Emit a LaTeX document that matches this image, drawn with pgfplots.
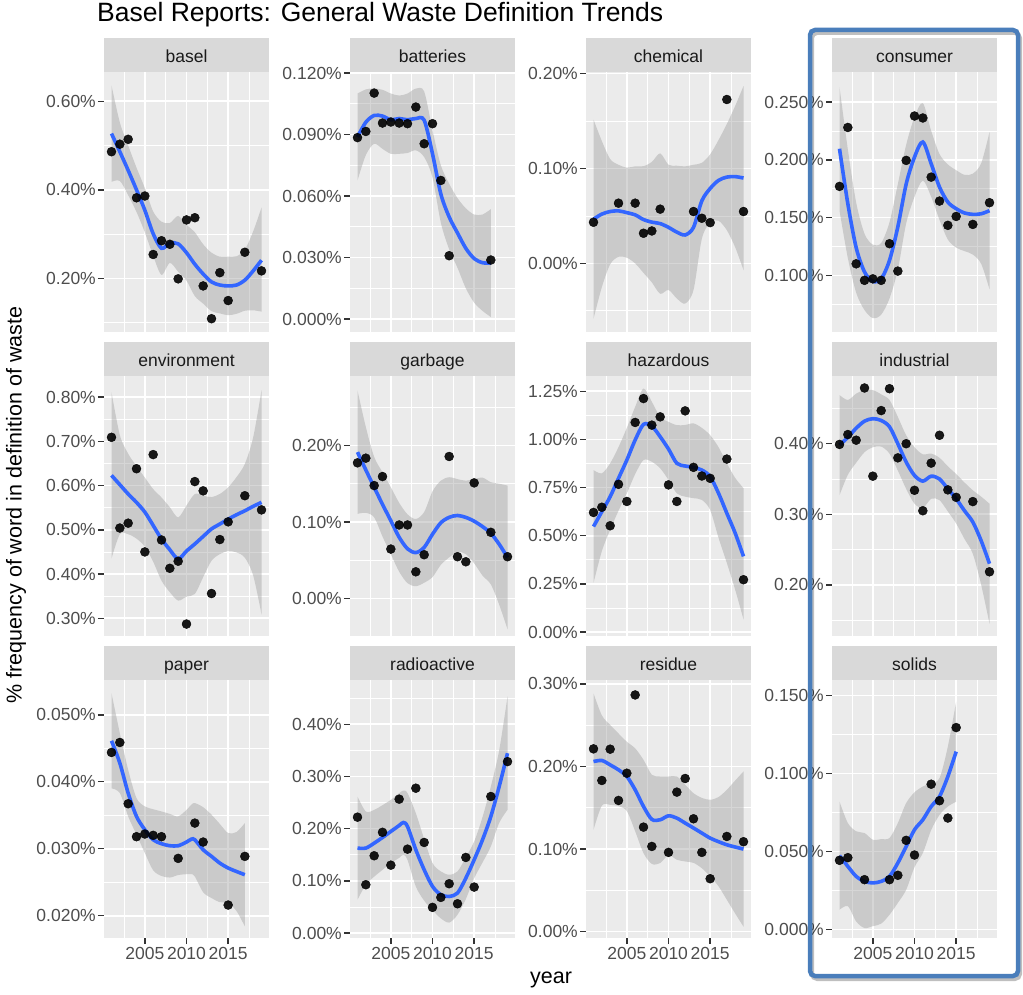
\documentclass[border=0pt]{standalone}
\usepackage{fontspec}
\setmainfont{Liberation Sans}
\usepackage{pgfplots}
\pgfplotsset{compat=1.18}
\usepackage{pgfplotstable}
\usepgfplotslibrary{fillbetween}
\definecolor{panelbg}{RGB}{235,235,235}
\definecolor{stripbg}{RGB}{217,217,217}
\definecolor{ticktext}{RGB}{77,77,77}
\definecolor{tickcol}{RGB}{51,51,51}
\definecolor{striptext}{RGB}{26,26,26}
\definecolor{fitblue}{RGB}{51,102,255}
\definecolor{bandgray}{RGB}{153,153,153}
\definecolor{framecol}{RGB}{74,126,187}
\newcommand{\tickfont}{\fontsize{17.5}{20}\selectfont}
\newcommand{\axisfont}{\fontsize{21.5}{24}\selectfont}
\newcommand{\titlefont}{\fontsize{26.5}{30}\selectfont}

% ---------------- data: points (x y) and smooth fit with band (x fit lo hi)
\pgfplotstableread{
x y
2001 0.486
2002 0.503
2003 0.514
2004 0.382
2005 0.386
2006 0.254
2007 0.285
2008 0.277
2009 0.199
2010 0.332
2011 0.337
2012 0.183
2013 0.109
2014 0.213
2015 0.150
2017 0.259
2019 0.217
}\ptsBasel
\pgfplotstableread{
x fit lo hi
2001 0.527 0.418 0.636
2002 0.486 0.420 0.552
2003 0.444 0.388 0.500
2004 0.400 0.350 0.450
2005 0.354 0.304 0.404
2006 0.301 0.251 0.351
2007 0.268 0.208 0.328
2008 0.280 0.235 0.325
2009 0.278 0.215 0.341
2010 0.258 0.195 0.321
2011 0.232 0.160 0.304
2012 0.210 0.143 0.277
2013 0.192 0.126 0.258
2014 0.185 0.121 0.249
2015 0.183 0.117 0.249
2016 0.185 0.120 0.250
2017 0.196 0.127 0.265
2018 0.217 0.128 0.306
2019 0.241 0.125 0.360
}\bandBasel

\pgfplotstableread{
x y
2001 0.0885
2002 0.0915
2003 0.1102
2004 0.0956
2005 0.0961
2006 0.0956
2007 0.0953
2008 0.1034
2009 0.0855
2010 0.0953
2011 0.0676
2012 0.0309
2017 0.0288
}\ptsBatt
\pgfplotstableread{
x fit lo hi
2001 0.0888 0.0676 0.1100
2002 0.0960 0.0800 0.1120
2003 0.0993 0.0855 0.1125
2004 0.0990 0.0830 0.1118
2005 0.0972 0.0806 0.1100
2006 0.0978 0.0806 0.1090
2007 0.0972 0.0810 0.1100
2008 0.0978 0.0823 0.1124
2009 0.0970 0.0790 0.1110
2010 0.0806 0.0690 0.0920
2011 0.0610 0.0470 0.0750
2012 0.0498 0.0340 0.0660
2013 0.0420 0.0250 0.0590
2014 0.0345 0.0150 0.0540
2015 0.0295 0.0080 0.0510
2016 0.0275 0.0040 0.0510
2017 0.0273 0.0010 0.0536
}\bandBatt

\pgfplotstableread{
x y
2001 0.0434
2004 0.0635
2006 0.0635
2007 0.0318
2008 0.0342
2009 0.0572
2013 0.0547
2014 0.0476
2015 0.0430
2017 0.1728
2019 0.0547
}\ptsChem
\pgfplotstableread{
x fit lo hi
2001 0.0466 -0.0585 0.1517
2002 0.0520 -0.0250 0.1290
2003 0.0547 -0.0010 0.1100
2004 0.0554 0.0070 0.1040
2005 0.0535 0.0060 0.1010
2006 0.0512 0.0000 0.1023
2007 0.0462 -0.0100 0.1025
2008 0.0435 -0.0200 0.1070
2009 0.0420 -0.0320 0.1160
2010 0.0380 -0.0280 0.1040
2011 0.0330 -0.0370 0.1030
2012 0.0300 -0.0423 0.1023
2013 0.0380 -0.0280 0.1040
2014 0.0660 0.0260 0.1060
2015 0.0790 0.0430 0.1150
2016 0.0875 0.0450 0.1300
2017 0.0910 0.0350 0.1470
2018 0.0915 0.0170 0.1660
2019 0.0900 -0.0070 0.1870
}\bandChem

\pgfplotstableread{
x y
2001 0.177
2002 0.228
2003 0.110
2004 0.0957
2005 0.0970
2006 0.0957
2007 0.1274
2008 0.1037
2009 0.1995
2010 0.2379
2011 0.2362
2012 0.185
2013 0.1643
2014 0.1433
2015 0.151
2017 0.1441
2019 0.1629
}\ptsCons
\pgfplotstableread{
x fit lo hi
2001 0.2096 0.156 0.263
2002 0.162 0.115 0.209
2003 0.124 0.085 0.163
2004 0.103 0.070 0.136
2005 0.0948 0.063 0.1266
2006 0.097 0.066 0.128
2007 0.113 0.080 0.146
2008 0.142 0.105 0.179
2009 0.179 0.145 0.213
2010 0.2024 0.168 0.237
2011 0.2154 0.182 0.249
2012 0.1966 0.168 0.225
2013 0.1764 0.148 0.205
2014 0.1634 0.131 0.196
2015 0.1577 0.124 0.191
2016 0.154 0.121 0.187
2017 0.1528 0.118 0.188
2018 0.1533 0.110 0.197
2019 0.156 0.088 0.224
}\bandCons

\pgfplotstableread{
x y
2001 0.709
2002 0.504
2003 0.515
2004 0.638
2005 0.450
2006 0.670
2007 0.477
2008 0.413
2009 0.429
2010 0.287
2011 0.609
2012 0.588
2013 0.356
2014 0.478
2015 0.518
2017 0.577
2019 0.545
}\ptsEnv
\pgfplotstableread{
x fit lo hi
2001 0.623 0.435 0.811
2002 0.602 0.490 0.714
2003 0.581 0.490 0.672
2004 0.562 0.480 0.644
2005 0.540 0.462 0.618
2006 0.510 0.428 0.592
2007 0.479 0.385 0.573
2008 0.455 0.359 0.551
2009 0.434 0.340 0.528
2010 0.452 0.349 0.555
2011 0.468 0.355 0.581
2012 0.485 0.393 0.577
2013 0.502 0.430 0.574
2014 0.513 0.445 0.581
2015 0.524 0.452 0.596
2016 0.534 0.449 0.619
2017 0.543 0.437 0.649
2018 0.553 0.397 0.709
2019 0.562 0.309 0.815
}\bandEnv

\pgfplotstableread{
x y
2001 0.1773
2002 0.1834
2003 0.1476
2004 0.1594
2005 0.0646
2006 0.0961
2007 0.0961
2008 0.0349
2009 0.0572
2012 0.1856
2013 0.0546
2014 0.0480
2015 0.1511
2017 0.0865
2019 0.0546
}\ptsGarb
\pgfplotstableread{
x fit lo hi
2001 0.1913 0.1106 0.272
2002 0.168 0.112 0.224
2003 0.1454 0.106 0.185
2004 0.123 0.081 0.165
2005 0.1017 0.058 0.1454
2006 0.080 0.035 0.125
2007 0.065 0.020 0.110
2008 0.060 0.0161 0.1039
2009 0.0668 0.0206 0.113
2010 0.084 0.028 0.140
2011 0.099 0.044 0.154
2012 0.1061 0.0537 0.1585
2013 0.1085 0.061 0.156
2014 0.106 0.058 0.154
2015 0.101 0.046 0.156
2016 0.094 0.030 0.158
2017 0.0852 0.0184 0.152
2018 0.071 -0.008 0.150
2019 0.0537 -0.0402 0.1476
}\bandGarb

\pgfplotstableread{
x y
2001 0.621
2002 0.648
2003 0.552
2004 0.767
2005 0.678
2006 1.088
2007 1.212
2008 1.074
2009 1.117
2010 0.764
2011 0.678
2012 1.148
2013 0.855
2014 0.810
2015 0.798
2017 0.898
2019 0.272
}\ptsHaz
\pgfplotstableread{
x fit lo hi
2001 0.548 0.255 0.841
2002 0.625 0.420 0.824
2003 0.703 0.531 0.876
2004 0.798 0.630 0.960
2005 0.893 0.720 1.060
2006 0.997 0.820 1.169
2007 1.078 0.893 1.264
2008 1.069 0.884 1.195
2009 1.014 0.850 1.117
2010 0.950 0.790 1.091
2011 0.876 0.720 1.074
2012 0.862 0.703 1.075
2013 0.855 0.695 1.083
2014 0.841 0.686 1.060
2015 0.807 0.634 1.022
2016 0.721 0.490 0.960
2017 0.617 0.359 0.876
2018 0.514 0.220 0.800
2019 0.393 0.066 0.747
}\bandHaz

\pgfplotstableread{
x y
2001 0.399
2002 0.413
2003 0.405
2004 0.479
2005 0.354
2006 0.447
2007 0.478
2008 0.380
2009 0.400
2010 0.334
2011 0.305
2012 0.3725
2013 0.412
2014 0.3346
2015 0.324
2017 0.318
2019 0.2185
}\ptsInd
\pgfplotstableread{
x fit lo hi
2001 0.398 0.327 0.469
2002 0.409 0.356 0.462
2003 0.422 0.373 0.471
2004 0.432 0.388 0.476
2005 0.4355 0.395 0.476
2006 0.433 0.396 0.470
2007 0.424 0.386 0.462
2008 0.400 0.362 0.438
2009 0.374 0.336 0.412
2010 0.355 0.315 0.395
2011 0.347 0.309 0.385
2012 0.354 0.322 0.386
2013 0.350 0.320 0.380
2014 0.336 0.304 0.368
2015 0.322 0.287 0.357
2016 0.305 0.265 0.345
2017 0.289 0.244 0.334
2018 0.2625 0.200 0.325
2019 0.230 0.145 0.315
}\bandInd

\pgfplotstableread{
x y
2001 0.04438
2002 0.04587
2003 0.03672
2004 0.0318
2005 0.0322
2006 0.0320
2007 0.0318
2009 0.02856
2011 0.03383
2012 0.0310
2015 0.02159
2017 0.02886
}\ptsPaper
\pgfplotstableread{
x fit lo hi
2001 0.04612 0.03901 0.05323
2002 0.04279 0.03832 0.04726
2003 0.03831 0.03483 0.04179
2004 0.03483 0.03210 0.03756
2005 0.03284 0.02936 0.03632
2006 0.03134 0.02678 0.03590
2007 0.03075 0.02593 0.03557
2008 0.03045 0.02570 0.03520
2009 0.03045 0.02607 0.03483
2010 0.03100 0.02620 0.03580
2010.6 0.03144 0.02620 0.03660
2011 0.03134 0.02586 0.03682
2012 0.02985 0.02350 0.03620
2013 0.02886 0.02264 0.03508
2014 0.02786 0.02202 0.03370
2015 0.02712 0.02190 0.03234
2016 0.02660 0.02070 0.03250
2017 0.02612 0.01841 0.03383
}\bandPaper

\pgfplotstableread{
x y
2001 0.222
2002 0.0925
2003 0.148
2004 0.193
2005 0.130
2006 0.2565
2007 0.1607
2008 0.2775
2009 0.1735
2010 0.0491
2011 0.0682
2012 0.0944
2013 0.0560
2014 0.1448
2015 0.0880
2017 0.2616
2019 0.3285
}\ptsRad
\pgfplotstableread{
x fit lo hi
2001 0.1627 0.0638 0.2616
2002 0.1627 0.0926 0.2328
2003 0.1722 0.108 0.236
2004 0.183 0.121 0.245
2005 0.1946 0.134 0.2552
2006 0.206 0.144 0.268
2006.5 0.2118 0.150 0.273
2007 0.2041 0.140 0.268
2008 0.1595 0.089 0.2296
2009 0.1212 0.062 0.180
2010 0.0893 0.044 0.134
2011 0.0733 0.028 0.118
2012 0.0700 0.020 0.1116
2013 0.0765 0.035 0.118
2014 0.1052 0.065 0.145
2015 0.1403 0.105 0.1754
2016 0.1786 0.135 0.222
2017 0.2233 0.166 0.2807
2018 0.2807 0.211 0.350
2019 0.3445 0.236 0.453
}\bandRad

\pgfplotstableread{
x y
2001 0.2214
2002 0.1831
2003 0.2210
2004 0.1589
2005 0.1919
2006 0.2867
2007 0.1266
2008 0.1032
2010 0.0960
2011 0.1690
2012 0.1855
2013 0.1367
2014 0.0960
2015 0.0641
2017 0.1153
2019 0.1089
}\ptsRes
\pgfplotstableread{
x fit lo hi
2001 0.206 0.1233 0.2887
2002 0.2073 0.1526 0.262
2003 0.202 0.1536 0.2504
2004 0.196 0.152 0.240
2005 0.188 0.146 0.230
2006 0.1718 0.1216 0.222
2007 0.1516 0.0951 0.2081
2008 0.136 0.082 0.190
2009 0.1355 0.0831 0.1879
2010 0.1403 0.0927 0.1879
2011 0.1375 0.0871 0.1879
2012 0.1315 0.085 0.178
2013 0.1255 0.0833 0.1677
2014 0.1194 0.0768 0.162
2015 0.1133 0.0669 0.1597
2016 0.109 0.055 0.163
2017 0.1052 0.0386 0.1718
2018 0.1025 0.022 0.183
2019 0.100 0.006 0.194
}\bandRes

\pgfplotstableread{
x y
2001 0.0444
2002 0.0461
2004 0.0320
2007 0.0320
2008 0.0348
2009 0.0572
2010 0.0478
2012 0.0932
2013 0.0826
2014 0.0715
2015 0.1295
}\ptsSol
\pgfplotstableread{
x fit lo hi
2001 0.0474 0.0127 0.0821
2002 0.0405 0.0150 0.0683
2003 0.0341 0.0052 0.0630
2004 0.0309 0.0010 0.0619
2005 0.0299 0.0022 0.0576
2006 0.0309 0.0038 0.0580
2007 0.0341 0.0095 0.0587
2008 0.0427 0.0171 0.0683
2009 0.0533 0.0255 0.0811
2010 0.0640 0.0400 0.0880
2011 0.0704 0.0491 0.0917
2012 0.0789 0.0638 0.0940
2013 0.0853 0.0735 0.0971
2014 0.0981 0.0789 0.1173
2015 0.1141 0.0820 0.1462
}\bandSol

\pgfplotsset{
  facet/.style={
    scale only axis, width=165pt, height=260pt,
    anchor=south west,
    xmin=2000.1, xmax=2019.9,
    axis background/.style={fill=panelbg},
    axis line style={draw=none},
    grid=both,
    major grid style={draw=white, line width=1.6pt},
    minor grid style={draw=white, line width=0.8pt},
    xtick={2005,2010,2015},
    minor xtick={2002.5,2007.5,2012.5,2017.5},
    minor tick length=0pt,
    tick align=outside,
    major tick length=6pt,
    tick style={draw=tickcol, line width=1.4pt},
    xtick pos=left, ytick pos=left,
    xticklabels={},
    tick label style={font=\tickfont, text=ticktext},
    yticklabel style={inner sep=2pt},
    xticklabel style={inner sep=3pt},
    scaled y ticks=false,
    /pgf/number format/assume math mode=true,
  },
  toprow/.style={xmajorticks=false},
  bottomrow/.style={height=258pt, xticklabels={2005,2010,2015}},
  ptwo/.style={yticklabel={\pgfmathprintnumber[fixed,fixed zerofill,precision=2]{\tick}\%}},
  pthree/.style={yticklabel={\pgfmathprintnumber[fixed,fixed zerofill,precision=3]{\tick}\%}},
}

\newcommand{\facetplots}[2]{%
  \addplot[draw=none, smooth, name path=U] table[x=x,y=hi]{#2};
  \addplot[draw=none, smooth, name path=L] table[x=x,y=lo]{#2};
  \addplot[fill=bandgray, fill opacity=0.4, draw=none] fill between[of=U and L];
  \addplot[fitblue, line width=3.6pt, smooth, no markers] table[x=x,y=fit]{#2};
  \addplot[only marks, mark=*, mark size=4.5pt, color=black, opacity=0.9] table[x=x,y=y]{#1};
}
\newcommand{\strip}[3]{%
  \fill[stripbg] (#1pt,#2pt) rectangle ({#1pt+165pt},{#2pt+34pt});
  \node[anchor=base, font=\tickfont, text=striptext, inner sep=0pt] at ({#1pt+82.5pt},{#2pt+9pt}) {#3};%
}

\begin{document}
\begin{tikzpicture}
\path (0pt,0pt) rectangle (1023pt,994pt);

% ---------- row 1
\begin{axis}[facet, toprow, ptwo, at={(104pt,662pt)},
  ymin=0.079, ymax=0.666, ytick={0.2,0.4,0.6}, minor ytick={0.1,0.3,0.5}]
\facetplots{\ptsBasel}{\bandBasel}
\end{axis}
\begin{axis}[facet, toprow, pthree, at={(350pt,662pt)},
  ymin=-0.0063, ymax=0.1205, ytick={0,0.03,0.06,0.09,0.12}, minor ytick={0.015,0.045,0.075,0.105}]
\facetplots{\ptsBatt}{\bandBatt}
\end{axis}
\begin{axis}[facet, toprow, ptwo, at={(586pt,662pt)},
  ymin=-0.0723, ymax=0.2018, ytick={0,0.1,0.2}, minor ytick={-0.05,0.05,0.15}]
\facetplots{\ptsChem}{\bandChem}
\end{axis}
\begin{axis}[facet, toprow, pthree, at={(832pt,662pt)},
  ymin=0.051, ymax=0.276, ytick={0.1,0.15,0.2,0.25}, minor ytick={0.075,0.125,0.175,0.225}]
\facetplots{\ptsCons}{\bandCons}
\end{axis}

% ---------- row 2
\begin{axis}[facet, toprow, ptwo, at={(104pt,358pt)},
  ymin=0.260, ymax=0.8476, ytick={0.3,0.4,0.5,0.6,0.7,0.8}, minor ytick={0.35,0.45,0.55,0.65,0.75}]
\facetplots{\ptsEnv}{\bandEnv}
\end{axis}
\begin{axis}[facet, toprow, ptwo, at={(350pt,358pt)},
  ymin=-0.049, ymax=0.2908, ytick={0,0.1,0.2}, minor ytick={0.05,0.15,0.25}]
\facetplots{\ptsGarb}{\bandGarb}
\end{axis}
\begin{axis}[facet, toprow, ptwo, at={(586pt,358pt)},
  ymin=-0.02, ymax=1.329, ytick={0,0.25,0.5,0.75,1,1.25}, minor ytick={0.125,0.375,0.625,0.875,1.125}]
\facetplots{\ptsHaz}{\bandHaz}
\end{axis}
\begin{axis}[facet, toprow, ptwo, at={(832pt,358pt)},
  ymin=0.1275, ymax=0.496, ytick={0.2,0.3,0.4}, minor ytick={0.15,0.25,0.35,0.45}]
\facetplots{\ptsInd}{\bandInd}
\end{axis}

% ---------- row 3
\begin{axis}[facet, bottomrow, pthree, at={(104pt,56pt)},
  ymin=0.01667, ymax=0.0552, ytick={0.02,0.03,0.04,0.05}, minor ytick={0.025,0.035,0.045}]
\facetplots{\ptsPaper}{\bandPaper}
\end{axis}
\begin{axis}[facet, bottomrow, ptwo, at={(350pt,56pt)},
  ymin=-0.0096, ymax=0.4849, ytick={0,0.1,0.2,0.3,0.4}, minor ytick={0.05,0.15,0.25,0.35,0.45}]
\facetplots{\ptsRad}{\bandRad}
\end{axis}
\begin{axis}[facet, bottomrow, ptwo, at={(586pt,56pt)},
  ymin=-0.0077, ymax=0.3048, ytick={0,0.1,0.2,0.3}, minor ytick={0.05,0.15,0.25}]
\facetplots{\ptsRes}{\bandRes}
\end{axis}
\begin{axis}[facet, bottomrow, pthree, at={(832pt,56pt)},
  ymin=-0.0054, ymax=0.160, ytick={0,0.05,0.1,0.15}, minor ytick={0.025,0.075,0.125}]
\facetplots{\ptsSol}{\bandSol}
\end{axis}

% ---------- strips
\strip{104}{922}{basel}
\strip{350}{922}{batteries}
\strip{586}{922}{chemical}
\strip{832}{922}{consumer}
\strip{104}{618}{environment}
\strip{350}{618}{garbage}
\strip{586}{618}{hazardous}
\strip{832}{618}{industrial}
\strip{104}{314}{paper}
\strip{350}{314}{radioactive}
\strip{586}{314}{residue}
\strip{832}{314}{solids}

% ---------- titles
\node[anchor=base west, font=\titlefont, inner sep=0pt] at (97pt,972pt) {Basel Reports: General Waste Definition Trends};
\node[rotate=90, font=\axisfont, inner sep=0pt] at (16pt,489pt) {\% frequency of word in definition of waste};
\node[font=\axisfont, inner sep=0pt] at (551pt,14pt) {year};

% ---------- highlight frame
\draw[black, opacity=0.25, line width=4pt, rounded corners=5pt] (812pt,15pt) rectangle (1020pt,961pt);
\draw[framecol, line width=4.5pt, rounded corners=5pt] (810pt,18pt) rectangle (1018pt,964pt);
\end{tikzpicture}
\end{document}
